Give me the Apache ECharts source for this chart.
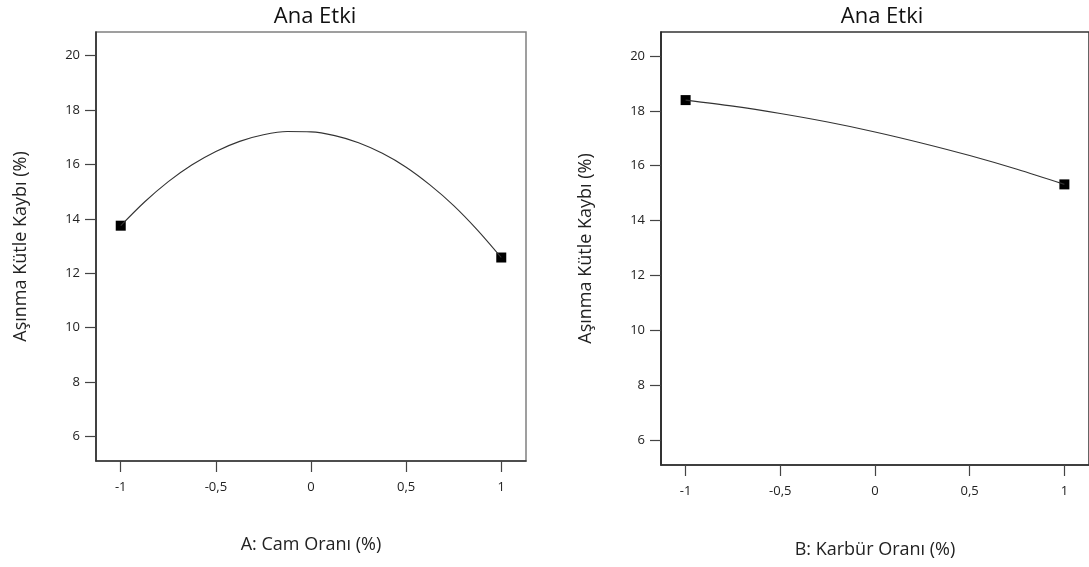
<!DOCTYPE html>
<html>
<head>
<meta charset="utf-8">
<title>Ana Etki</title>
<script src="https://cdn.jsdelivr.net/npm/echarts@6/dist/echarts.min.js"></script>
<style>
    html, body { margin: 0; padding: 0; background: #fff; }
    #main { width: 1089px; height: 567px; }
</style>
</head>
<body>
<div id="main"></div>
<script>
// eksen değerleri
var xTicks = [-1, -0.5, 0, 0.5, 1];
var yTicks = [6, 8, 10, 12, 14, 16, 18, 20];

// A: Cam Oranı - model eğrisi
var camX = [-1, -0.875, -0.75, -0.625, -0.5, -0.375, -0.25, -0.125, 0, 0.125, 0.25, 0.375, 0.5, 0.625, 0.75, 0.875, 1];
var camCurve = [13.75, 14.62, 15.37, 15.99, 16.48, 16.85, 17.09, 17.21, 17.2, 17.06, 16.8, 16.41, 15.9, 15.25, 14.49, 13.59, 12.58];
var camPtX = [-1, 1];
var camPtY = [13.75, 12.58];

// B: Karbür Oranı
var karX = [-1, -0.75, -0.5, -0.25, 0, 0.25, 0.5, 0.75, 1];
var karCurve = [18.39, 18.17, 17.9, 17.59, 17.23, 16.82, 16.37, 15.87, 15.32];
var karPtX = [-1, 1];
var karPtY = [18.39, 15.32];

var fontFam = '"Open Sans", "Noto Sans", sans-serif';

function pairs(xs, ys) {
    var out = [];
    for (var i = 0; i < xs.length; i++) {
        out.push([xs[i], ys[i]]);
    }
    return out;
}

function xAxisOf(idx, name, gap) {
    return {
        type: 'value',
        gridIndex: idx,
        min: -1.13,
        max: 1.13,
        name: name,
        nameLocation: 'middle',
        nameGap: gap,
        nameTextStyle: { fontFamily: fontFam, fontSize: 18, color: '#222' },
        axisLine: { show: true, onZero: false, lineStyle: { color: '#333', width: 1.5 } },
        axisTick: { show: true, inside: false, length: 11, customValues: xTicks, lineStyle: { color: '#444', width: 1.2 } },
        axisLabel: {
            show: true, margin: 20, customValues: xTicks,
            fontFamily: fontFam, fontSize: 13, color: '#222',
            formatter: function (v) { return String(v).replace('.', ','); }
        },
        splitLine: { show: false }
    };
}

function yAxisOf(idx) {
    return {
        type: 'value',
        gridIndex: idx,
        min: 5.1,
        max: 20.87,
        name: 'Aşınma Kütle Kaybı (%)',
        nameLocation: 'middle',
        nameGap: 66,
        nameTextStyle: { fontFamily: fontFam, fontSize: 18, color: '#222' },
        axisLine: { show: true, onZero: false, lineStyle: { color: '#222', width: 1.5 } },
        axisTick: { show: true, inside: false, length: 11, customValues: yTicks, lineStyle: { color: '#444', width: 1.2 } },
        axisLabel: { show: true, margin: 16, customValues: yTicks, fontFamily: fontFam, fontSize: 13, color: '#222' },
        splitLine: { show: false }
    };
}

var myChart = echarts.init(document.getElementById('main'), null, { renderer: 'canvas' });
var option = {
    backgroundColor: '#fff',
    animation: false,
    title: [
        { text: 'Ana Etki', left: 310, top: 1, textAlign: 'center',
          textStyle: { fontFamily: fontFam, fontSize: 22, fontWeight: 'normal', color: '#111' } },
        { text: 'Ana Etki', left: 877, top: 1, textAlign: 'center',
          textStyle: { fontFamily: fontFam, fontSize: 22, fontWeight: 'normal', color: '#111' } }
    ],
    grid: [
        { left: 96, top: 32, width: 430, height: 429, show: true, borderColor: '#808080', borderWidth: 1.5, backgroundColor: 'transparent' },
        { left: 661, top: 32, width: 434, height: 433, show: true, borderColor: '#333', borderWidth: 1.5, backgroundColor: 'transparent' }
    ],
    xAxis: [xAxisOf(0, 'A: Cam Oranı (%)', 75), xAxisOf(1, 'B: Karbür Oranı (%)', 76)],
    yAxis: [yAxisOf(0), yAxisOf(1)],
    series: [
        {
            type: 'line', xAxisIndex: 0, yAxisIndex: 0,
            data: pairs(camX, camCurve), smooth: 0.3, showSymbol: false,
            lineStyle: { color: '#333', width: 1.1 }
        },
        {
            type: 'scatter', xAxisIndex: 0, yAxisIndex: 0,
            data: pairs(camPtX, camPtY), symbol: 'rect', symbolSize: 10,
            itemStyle: { color: '#000', opacity: 1 }
        },
        {
            type: 'line', xAxisIndex: 1, yAxisIndex: 1,
            data: pairs(karX, karCurve), smooth: 0.3, showSymbol: false,
            lineStyle: { color: '#333', width: 1.1 }
        },
        {
            type: 'scatter', xAxisIndex: 1, yAxisIndex: 1,
            data: pairs(karPtX, karPtY), symbol: 'rect', symbolSize: 10,
            itemStyle: { color: '#000', opacity: 1 }
        }
    ]
};
myChart.setOption(option);
</script>
</body>
</html>
